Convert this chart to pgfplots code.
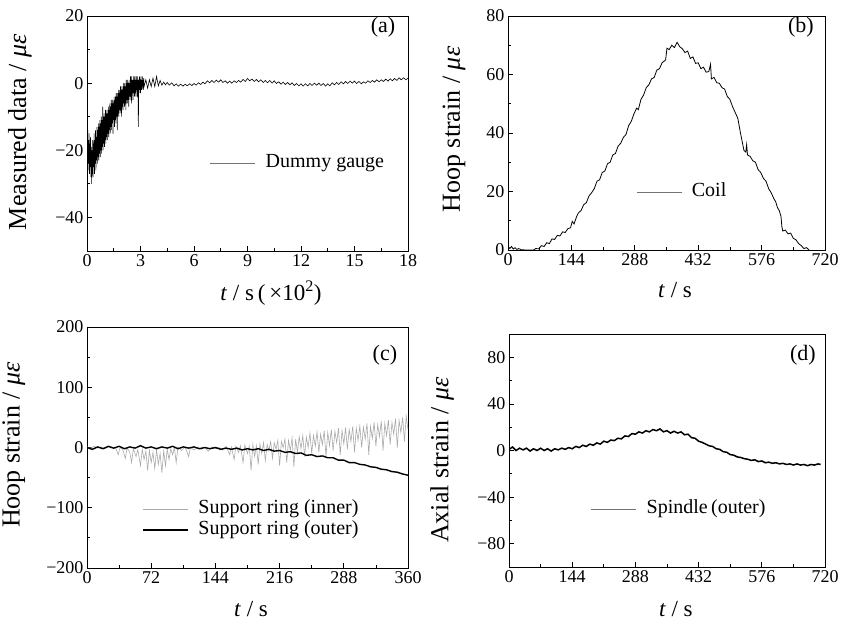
\documentclass[border=0pt]{standalone}
\usepackage{fontspec}
\setmainfont{Liberation Serif}
\usepackage{pgfplots}
\pgfplotsset{compat=1.18}
\definecolor{lgray}{RGB}{170,170,170}
\pgfplotsset{
  panel/.style={
    scale only axis, anchor=south west,
    axis line style={line width=0.8pt},
    tick align=inside, tick pos=left,
    major tick length=5pt, minor tick length=3pt,
    every tick/.style={line width=0.8pt, black},
    minor tick num=1,
    tick label style={font=\fontsize{18}{18}\selectfont},
    xlabel style={font=\fontsize{23}{23}\selectfont, anchor=center},
    ylabel style={font=\fontsize{26}{26}\selectfont, anchor=center},
    /pgf/number format/assume math mode=true,
    legend style={draw=none, fill=none, inner sep=0pt, column sep=9pt,
      font=\fontsize{20}{22}\selectfont, cells={anchor=west},
      nodes={inner sep=1pt, text height=14pt, text depth=5pt}},
    legend image code/.code={\draw[##1] (0pt,0pt) -- (45pt,0pt);},
    clip=true,
  }
}
\begin{document}
\begin{tikzpicture}
\useasboundingbox (0,0) rectangle (842pt,625pt);
% ---------------- (a)
\begin{axis}[panel, at={(87pt,374pt)}, width=321pt, height=235pt,
  xmin=0, xmax=18, ymin=-50, ymax=20,
  xtick={0,3,6,9,12,15,18},
  ytick={-40,-20,0,20}, yticklabels={−40,−20,0,20},
  ylabel={Measured data / \textit{με}},
  xlabel={\textit{t} / s\,(\,×10\textsuperscript{2})},
  ylabel style={at={(axis description cs:-0.209,0.506)}},
  xlabel style={at={(axis description cs:0.573,-0.179)}},
  legend style={at={(axis description cs:0.383,0.374)}, anchor=west},
  legend image post style={black!55, line width=0.6pt},
]
\addplot[black, line width=0.6pt] coordinates {
(0.00,-10) (0.02,-22) (0.04,-14) (0.06,-26) (0.08,-17) (0.10,-24) (0.12,-15) (0.14,-27) (0.16,-18) (0.18,-25)
(0.20,-16) (0.22,-28) (0.24,-19) (0.26,-30) (0.28,-20) (0.30,-27) (0.32,-17) (0.34,-28) (0.36,-18) (0.38,-25)
(0.40,-15) (0.42,-27) (0.44,-17) (0.46,-24) (0.48,-14) (0.50,-26) (0.52,-16) (0.54,-23) (0.56,-13) (0.58,-24)
(0.60,-14) (0.62,-22) (0.64,-12) (0.66,-23) (0.68,-13) (0.70,-21) (0.72,-11) (0.74,-22) (0.76,-12) (0.78,-20)
(0.80,-10) (0.82,-21) (0.84,-11) (0.86,-19) (0.88,-7) (0.90,-20) (0.92,-10) (0.94,-18) (0.96,-9) (0.98,-19)
(1.00,-10) (1.02,-17) (1.04,-8) (1.06,-18) (1.08,-9) (1.10,-16) (1.12,-8) (1.14,-17) (1.16,-9) (1.18,-15)
(1.20,-7) (1.22,-16) (1.24,-8) (1.26,-14) (1.28,-6) (1.30,-15) (1.32,-7) (1.34,-13) (1.36,-5) (1.38,-14)
(1.40,-6) (1.42,-12) (1.44,-5) (1.46,-15) (1.48,-6) (1.50,-11) (1.52,-4) (1.54,-13) (1.56,-5) (1.58,-11)
(1.60,-4) (1.62,-12) (1.64,-3) (1.66,-10) (1.68,-4) (1.70,-14) (1.72,-3) (1.74,-9) (1.76,-2) (1.78,-10)
(1.80,-3) (1.82,-8) (1.84,-2) (1.86,-9) (1.88,-1) (1.90,-8) (1.92,-2) (1.94,-10) (1.96,-1) (1.98,-7)
(2.00,-2) (2.02,-8) (2.04,0) (2.06,-6) (2.08,-1) (2.10,-7) (2.12,0) (2.14,-6) (2.16,-1) (2.18,-8)
(2.20,1) (2.22,-5) (2.24,0) (2.26,-6) (2.28,1) (2.30,-5) (2.32,0) (2.34,-7) (2.36,1) (2.38,-4)
(2.40,0) (2.42,-5) (2.44,2) (2.46,-4) (2.48,2) (2.50,-6) (2.52,1) (2.54,-3) (2.56,1) (2.58,-5)
(2.60,2) (2.62,-3) (2.64,1) (2.66,-4) (2.68,2) (2.70,-3) (2.72,1) (2.74,-4) (2.76,2) (2.78,-2)
(2.80,1) (2.82,-4) (2.84,2) (2.86,-3) (2.88,-13) (2.90,1) (2.92,-3) (2.94,2) (2.96,-2) (2.98,1)
(3.00,-3) (3.02,2) (3.04,-2) (3.06,1) (3.08,-2) (3.10,2) (3.12,-1) (3.14,1) (3.16,-2) (3.18,1.5)
(3.20,-1) (3.30,1) (3.40,-1.5) (3.50,1) (3.60,-1) (3.70,1.5) (3.80,-1) (3.90,2)
(4.00,-0.8) (4.10,0.8) (4.20,-0.6) (4.30,0.3) (4.40,-0.5)
(4.50,0.2) (4.62,-0.6) (4.75,0.1) (4.88,-0.8) (5.00,-0.2) (5.12,-0.9) (5.25,-0.3) (5.38,-0.9)
(5.50,-0.3) (5.62,-0.8) (5.75,-0.2) (5.88,-0.7) (6.00,-0.1) (6.12,-0.6) (6.25,0.1) (6.38,-0.4)
(6.50,0.3) (6.62,-0.2) (6.75,0.7) (6.88,0.1) (7.00,0.8) (7.12,0.2) (7.25,0.9) (7.38,0.3)
(7.50,1.0) (7.62,0.2) (7.75,0.7) (7.88,0.0) (8.00,0.6) (8.12,0.0) (8.25,0.7) (8.38,0.2)
(8.50,0.8) (8.62,0.3) (8.75,1.1) (8.88,0.5) (9.00,1.4) (9.12,0.7) (9.25,1.2) (9.38,0.5)
(9.50,1.1) (9.62,0.4) (9.75,1.0) (9.88,0.2) (10.00,0.8) (10.12,0.1) (10.25,0.8) (10.38,0.0)
(10.50,0.7) (10.62,-0.1) (10.75,0.4) (10.88,-0.3) (11.00,0.3) (11.12,-0.4) (11.25,0.2) (11.38,-0.5)
(11.50,0.1) (11.62,-0.7) (11.75,-0.1) (11.88,-0.8) (12.00,-0.2) (12.12,-0.9) (12.25,-0.2) (12.38,-0.8)
(12.50,-0.1) (12.62,-0.7) (12.75,0.0) (12.88,-0.6) (13.00,0.0) (13.12,-0.7) (13.25,-0.1) (13.38,-0.9)
(13.50,-0.2) (13.62,-0.8) (13.75,0.1) (13.88,-0.5) (14.00,0.2) (14.12,-0.4) (14.25,0.4) (14.38,-0.2)
(14.50,0.5) (14.62,-0.1) (14.75,0.6) (14.88,0.0) (15.00,0.6) (15.12,-0.1) (15.25,0.5) (15.38,-0.2)
(15.50,0.4) (15.62,0.0) (15.75,0.7) (15.88,0.2) (16.00,0.8) (16.12,0.3) (16.25,1.0) (16.38,0.4)
(16.50,1.0) (16.62,0.5) (16.75,1.2) (16.88,0.6) (17.00,1.3) (17.12,0.7) (17.25,1.4) (17.38,0.8)
(17.50,1.6) (17.62,1.0) (17.75,1.6) (17.88,1.0) (18.00,1.5)
};
\addlegendentry{Dummy gauge}
\node[font=\fontsize{22}{22}\selectfont] at (rel axis cs:0.922,0.953) {(a)};
\end{axis}
% ---------------- (b)
\begin{axis}[panel, at={(508pt,375pt)}, width=317pt, height=234pt,
  xmin=0, xmax=720, ymin=0, ymax=80,
  xtick={0,144,288,432,576,720},
  ytick={0,20,40,60,80},
  ylabel={Hoop strain / \textit{με}},
  xlabel={\textit{t} / s},
  ylabel style={at={(axis description cs:-0.170,0.515)}},
  xlabel style={at={(axis description cs:0.527,-0.171)}},
  legend style={at={(axis description cs:0.404,0.248)}, anchor=west},
  legend image post style={black!55, line width=0.6pt},
]
\addplot[black, line width=0.8pt] coordinates {
(0,1.5) (4,0.5) (8,1.2) (12,0.3) (16,0.8) (20,0.2) (24,0.5) (30,0.1) (40,0) (50,0) (58,0)
(63,0.5) (70,0.4) (76,1.5) (82,1.2) (88,2.5) (94,2.2) (100,3.8) (106,3.6) (112,5.0) (118,4.8)
(124,6.2) (130,6.0) (136,7.3) (142,7.6) (146,9.8) (150,8.9) (156,11.5) (160,12.7) (166,13.5)
(172,15.5) (178,16.2) (184,18.5) (190,19.6) (196,21.0) (202,23.5) (208,24.0) (214,26.5) (220,27.0)
(226,29.5) (232,30.0) (238,32.5) (244,33.0) (250,35.5) (256,36.5) (262,38.5) (268,39.5) (274,42.5)
(280,44.0) (286,46.5) (292,48.5) (296,48.0) (302,51.5) (308,53.0) (314,55.5) (320,56.5) (326,58.5)
(332,59.0) (338,61.5) (344,62.0) (350,64.0) (354,64.5) (358,65.0) (361,69.0) (366,68.5) (372,70.0)
(378,69.2) (384,71.0) (390,69.5) (396,68.8) (402,67.5) (408,68.0) (414,65.5) (420,66.0) (426,63.8)
(432,64.0) (438,62.0) (444,62.5) (450,60.8) (456,61.0) (460,63.5) (462,58.5) (468,59.0) (474,57.2)
(480,57.0) (486,55.5) (492,55.0) (498,52.5) (504,51.5) (510,49.0) (516,47.0) (522,45.0) (528,40.0)
(532,37.0) (536,34.0) (540,33.5) (542,36.0) (544,32.5) (550,32.0) (556,30.5) (562,30.0) (568,27.5)
(574,26.5) (580,24.5) (586,23.5) (592,21.0) (598,19.5) (604,17.5) (608,16.5) (612,14.5) (616,13.5)
(620,11.5) (622,8.0) (624,6.5) (630,6.8) (636,5.5) (642,5.8) (648,4.0) (654,3.5) (660,2.2)
(666,1.5) (672,0.5) (678,0.8) (684,0.0)
};
\addlegendentry{Coil}
\node[font=\fontsize{22}{22}\selectfont] at (rel axis cs:0.924,0.953) {(b)};
\end{axis}
% ---------------- (c)
\begin{axis}[panel, at={(87pt,57pt)}, width=321pt, height=241pt,
  xmin=0, xmax=360, ymin=-200, ymax=200,
  xtick={0,72,144,216,288,360},
  ytick={-200,-100,0,100,200}, yticklabels={−200,−100,0,100,200},
  ylabel={Hoop strain / \textit{με}},
  xlabel={\textit{t} / s},
  ylabel style={at={(axis description cs:-0.228,0.51)}},
  xlabel style={at={(axis description cs:0.511,-0.170)}},
  legend style={at={(axis description cs:0.171,0.201)}, anchor=west},
]
\addplot[lgray, line width=0.6pt] coordinates {
(0,1) (4,-1) (8,2) (12,-1) (16,1) (20,-2) (24,1) (28,-1) (32,0) (35,-12) (37,0) (40,-3)
(43,-18) (45,-1) (48,-8) (50,-25) (52,-2) (55,-15) (57,-4) (60,-30) (62,-3) (64,-20) (66,-6)
(68,-38) (70,-5) (72,-25) (74,-8) (76,-35) (78,-4) (80,-28) (82,-10) (84,-42) (86,-6) (88,-30)
(90,-3) (92,-20) (94,-2) (96,-12) (98,0) (100,-25) (102,1) (106,-5) (110,1) (114,-15) (116,0)
(120,-4) (124,1) (128,-3) (132,0) (136,-6) (140,1) (144,-2) (148,0) (152,-4) (156,2) (160,-12)
(162,1) (165,-20) (167,2) (170,-8) (172,3) (175,-25) (177,4) (180,-10) (182,2) (184,-38) (186,5)
(188,-15) (190,3) (192,-28) (194,6) (196,-10) (198,8) (200,-22) (202,5) (204,-5) (206,10) (208,-18)
(210,8) (212,-3) (214,12) (216,-30) (218,10) (220,0) (222,14) (224,-25) (226,12) (228,-5) (230,16)
(232,-32) (234,14) (236,-8) (238,18) (240,-2) (242,20) (244,-15) (246,17) (248,0) (250,24) (252,-10)
(254,20) (256,2) (258,26) (260,-8) (262,22) (264,5) (266,28) (268,-15) (270,25) (272,3) (274,30)
(276,-5) (278,27) (280,8) (282,32) (284,-12) (286,28) (288,6) (290,33) (292,-3) (294,30) (296,10)
(298,35) (300,-8) (302,32) (304,12) (306,36) (308,0) (310,34) (312,14) (314,40) (316,-12) (318,35)
(320,15) (322,42) (324,2) (326,38) (328,18) (330,44) (332,-5) (334,40) (336,20) (338,46) (340,5)
(342,42) (344,22) (346,48) (348,0) (350,45) (352,25) (354,50) (356,10) (358,52) (360,30)
};
\addlegendentry{Support ring (inner)}
\addplot[black, line width=1.4pt] coordinates {
(0,0) (6,-3) (12,1) (18,-2) (24,2) (30,-1) (36,2) (42,-2) (48,1) (54,-1) (60,3) (66,-1) (72,1)
(78,-2) (84,1) (90,-1) (96,2) (102,-2) (108,1) (114,-1) (120,1) (126,-2) (132,0) (138,-2) (144,0)
(150,-3) (156,-1) (162,-3) (168,-1) (174,-4) (180,-2) (186,-4) (192,-2) (198,-5) (204,-3) (210,-6)
(216,-5) (222,-8) (228,-7) (234,-10) (240,-9) (246,-13) (252,-12) (258,-15) (264,-14) (270,-17)
(276,-17) (282,-21) (288,-21) (294,-25) (300,-25) (306,-28) (312,-29) (318,-32) (324,-33) (330,-36)
(336,-37) (342,-40) (348,-41) (354,-44) (360,-46)
};
\addlegendentry{Support ring (outer)}
\node[font=\fontsize{22}{22}\selectfont] at (rel axis cs:0.928,0.884) {(c)};
\end{axis}
% ---------------- (d)
\begin{axis}[panel, at={(509pt,58pt)}, width=316pt, height=233pt,
  xmin=0, xmax=720, ymin=-100, ymax=100,
  xtick={0,144,288,432,576,720},
  ytick={-80,-40,0,40,80}, yticklabels={−80,−40,0,40,80},
  ylabel={Axial strain / \textit{με}},
  xlabel={\textit{t} / s},
  ylabel style={at={(axis description cs:-0.212,0.459)}},
  xlabel style={at={(axis description cs:0.528,-0.180)}},
  legend style={at={(axis description cs:0.259,0.249)}, anchor=west},
  legend image post style={black!55, line width=0.6pt},
]
\addplot[black, line width=1.5pt] coordinates {
(0,1) (8,3) (16,0) (24,2) (32,0.5) (40,2) (48,-0.5) (56,1.5) (64,0) (72,2) (80,0) (88,1.5)
(96,-0.5) (104,1.5) (112,0.5) (120,2) (128,1) (136,2.5) (144,1.5) (152,3.5) (160,2.5) (168,4.5)
(176,3.5) (184,5.5) (192,4.5) (200,6.5) (208,5.5) (216,8) (224,7) (232,9) (240,8.5) (248,10.5)
(256,10) (264,12.5) (272,12) (280,14.5) (288,14) (296,16) (304,15) (312,17) (320,16) (328,18)
(336,17) (344,18.5) (352,16) (360,17) (368,15) (376,16.5) (384,15) (392,16) (400,13.5) (408,14)
(416,11) (424,10.5) (432,8) (440,7) (448,5.5) (456,4) (464,3.5) (472,1.5) (480,1) (488,-1)
(496,-1.5) (504,-3.5) (512,-4) (520,-5.5) (528,-6) (536,-7) (544,-7.5) (552,-8.5) (560,-8)
(568,-9.5) (576,-9) (584,-10.5) (592,-10) (600,-11) (608,-10.5) (616,-11.5) (624,-11) (632,-12)
(640,-11.5) (648,-12.5) (656,-11.5) (664,-12.5) (672,-12) (680,-13) (688,-12) (696,-12.5)
(704,-11.5) (710,-12)
};
\addlegendentry{Spindle\,(outer)}
\node[font=\fontsize{22}{22}\selectfont] at (rel axis cs:0.930,0.910) {(d)};
\end{axis}
\end{tikzpicture}
\end{document}
